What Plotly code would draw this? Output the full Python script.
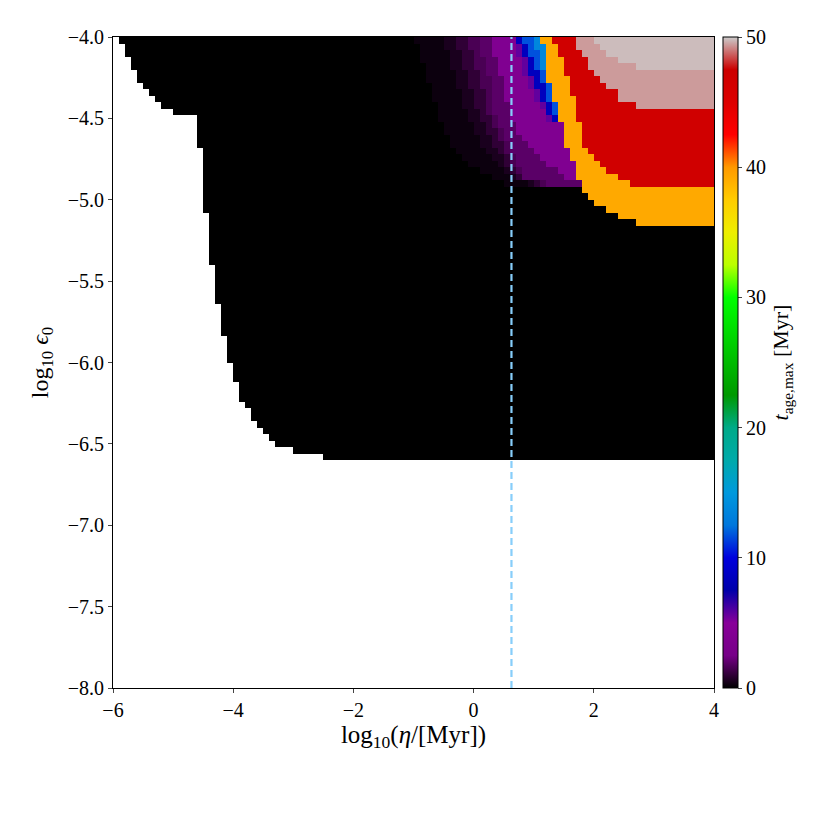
import plotly.graph_objects as go

# grid of the map: 100 columns in log10(eta), 100 rows in log10(eps0)
x_min, x_max, n_cols = -6.0, 4.0, 100
y_min, y_max, n_rows = -8.0, -4.0, 100
eta_line = 0.63   # dashed reference line, log10(eta/Myr)

# first valid (black) column for each row, rows counted from the top (y=-4) downward
first_col = [1, 2, 2, 3, 3, 4, 4, 5, 6, 7, 8, 10, 14, 14, 14, 14, 14,
             15, 15, 15, 15, 15, 15, 15, 15, 15, 15,
             16, 16, 16, 16, 16, 16, 16, 16,
             17, 17, 17, 17, 17, 17, 18, 18, 18, 18, 18,
             19, 19, 19, 19, 20, 20, 20, 21, 21, 21, 22, 23, 23, 24, 25, 26, 27, 30, 35]

# t_age,max value of each colour level [Myr]
level_names = ['v1', 'v2', 'v3', 'v4', 'v5', 'purple', 'violet', 'dblue', 'blue', 'lblue',
               'orange', 'red', 'pink', 'lpink']
level_values = [0.25, 0.55, 1.0, 1.55, 1.9, 3.8, 5.7, 8.5, 11.7, 13.7, 39.2, 46.9, 49.4, 49.8]

# first column of each level per row (rows 0..28 from the top), 100 = level absent
v1 = [50, 51, 51, 51, 52, 52, 52, 53, 53, 53, 54, 54, 54, 55, 55, 56, 56, 57, 58, 59, 61, 63, 65]
v2 = [55, 55, 56, 56, 56, 57, 57, 57, 58, 58, 58, 59, 59, 60, 60, 61, 61, 62, 63, 64, 65, 66, 69]
v3 = [57, 57, 58, 58, 58, 59, 59, 59, 60, 60, 60, 61, 61, 62, 62, 63, 63, 64, 65, 65, 66, 67, 70]
v4 = [59, 59, 60, 60, 60, 61, 61, 61, 62, 62, 62, 62, 63, 63, 64, 64, 65, 65, 66, 66, 67, 68, 71]
v5 = [61, 61, 61, 62, 62, 62, 63, 63, 63, 63, 63, 63, 64, 64, 65, 65, 66, 66, 67, 67, 68, 68, 72]
purple = [63, 63, 63, 64, 64, 64, 65, 65, 65, 65, 66, 66, 66, 67, 67, 68, 69, 70, 71, 72, 74, 75]
violet = [67, 67, 67, 68, 68, 68, 69, 69, 70, 70, 71, 72, 72]
dblue = [67, 68, 68, 69, 69, 69, 70, 70, 71, 71, 72, 72, 73]
blue = [68, 69, 69, 70, 70, 71, 71, 72, 72, 72, 73, 73, 100]
lblue = [70, 70, 71, 71, 71, 100, 100, 100, 100, 100, 100, 100, 100]
orange = [71, 72, 72, 72, 72, 72, 72, 73, 73, 73, 74, 74, 74, 75, 75, 75, 75, 76, 76, 77,
          77, 77, 78, 78, 79, 80, 82, 84, 87]
red = [73, 74, 74, 75, 75, 75, 76, 76, 76, 77, 77, 77, 77, 78, 78, 78, 78, 79, 80, 81, 82, 84, 86]
pink = [77, 77, 78, 79, 79, 80, 81, 82, 84, 84, 87]
lpink = [80, 81, 82, 84, 87]

level_starts = [v1, v2, v3, v4, v5, purple, violet, dblue, blue, lblue, orange, red, pink, lpink]

# matplotlib nipy_spectral
nipy_spectral = [
    [0.00, 'rgb(0,0,0)'], [0.05, 'rgb(119,0,136)'], [0.10, 'rgb(136,0,153)'],
    [0.15, 'rgb(0,0,170)'], [0.20, 'rgb(0,0,221)'], [0.25, 'rgb(0,119,221)'],
    [0.30, 'rgb(0,153,221)'], [0.35, 'rgb(0,170,170)'], [0.40, 'rgb(0,170,136)'],
    [0.45, 'rgb(0,153,0)'], [0.50, 'rgb(0,187,0)'], [0.55, 'rgb(0,221,0)'],
    [0.60, 'rgb(0,255,0)'], [0.65, 'rgb(187,255,0)'], [0.70, 'rgb(238,238,0)'],
    [0.75, 'rgb(255,204,0)'], [0.80, 'rgb(255,153,0)'], [0.85, 'rgb(255,0,0)'],
    [0.90, 'rgb(221,0,0)'], [0.95, 'rgb(204,0,0)'], [1.00, 'rgb(204,204,204)'],
]

dx = (x_max - x_min) / n_cols
dy = (y_max - y_min) / n_rows
xc = [x_min + dx * (j + 0.5) for j in range(n_cols)]
yc = [y_max - dy * (i + 0.5) for i in range(n_rows)]

z = [[None] * n_cols for _ in range(n_rows)]
for r, c0 in enumerate(first_col):
    for c in range(c0, n_cols):
        z[r][c] = 0.0
for val, starts in zip(level_values, level_starts):
    for r, c0 in enumerate(starts):
        for c in range(c0, n_cols):
            z[r][c] = val

FONT = 'Liberation Serif'

fig = go.Figure()
fig.add_trace(go.Heatmap(
    x=xc, y=yc, z=z, zmin=0, zmax=50, colorscale=nipy_spectral, zsmooth=False,
    hoverongaps=False,
    colorbar=dict(
        thickness=15, len=1, lenmode='fraction', y=0.5, yanchor='middle',
        x=1.0145, xanchor='left', xpad=0, ypad=0,
        outlinecolor='black', outlinewidth=1,
        tickvals=[0, 10, 20, 30, 40, 50], ticks='outside', ticklen=4,
        tickfont=dict(family=FONT, size=20, color='black'),
        title=dict(text='<i>t</i><sub>age,max</sub> [Myr]', side='right',
                   font=dict(family=FONT, size=22, color='black')),
    ),
))

fig.add_vline(x=eta_line, line=dict(color='#87cefa', width=2.2, dash='7px,4px'))

# the page body adds an 8 px offset, so the margins are shifted by that amount
fig.update_layout(
    width=830, height=830,
    margin=dict(l=105, r=124, t=29, b=150),
    plot_bgcolor='white', paper_bgcolor='white',
    font=dict(family=FONT, size=20, color='black'),
    xaxis=dict(range=[x_min, x_max], tickvals=[-6, -4, -2, 0, 2, 4],
               ticks='outside', ticklen=4, showline=True, mirror=True,
               linecolor='black', linewidth=1, showgrid=False, zeroline=False,
               title=dict(text='log<sub>10</sub>(<i>η</i>/[Myr])', font=dict(size=25), standoff=4)),
    yaxis=dict(range=[y_min, y_max], tickvals=[-8, -7.5, -7, -6.5, -6, -5.5, -5, -4.5, -4],
               tickformat='.1f', ticks='outside', ticklen=4, showline=True, mirror=True,
               linecolor='black', linewidth=1, showgrid=False, zeroline=False,
               title=dict(text='log<sub>10</sub> <i>ϵ</i><sub>0</sub>', font=dict(size=24), standoff=12)),
)

fig.write_html('out.html')
